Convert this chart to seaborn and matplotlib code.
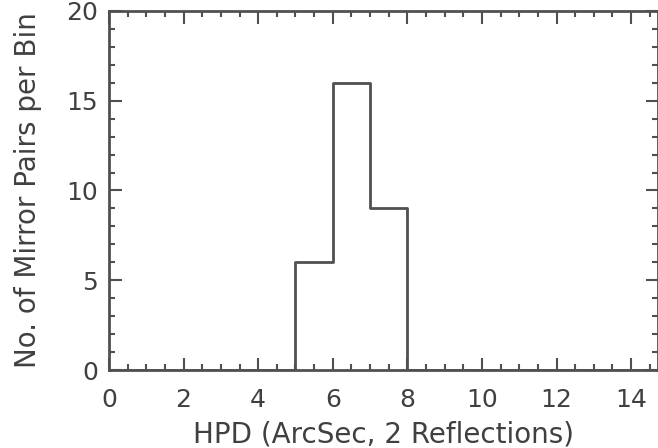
import numpy as np
import pandas as pd
import matplotlib
matplotlib.use("Agg")
import matplotlib.pyplot as plt
import seaborn as sns
from matplotlib.ticker import MultipleLocator

bin_edges = [0, 1, 2, 3, 4, 5, 6, 7, 8, 9, 10, 11, 12, 13, 14, 15]
counts = [0, 0, 0, 0, 0, 6, 16, 9, 0, 0, 0, 0, 0, 0, 0]
x_ticks = [0, 2, 4, 6, 8, 10, 12, 14]
y_ticks = [0, 5, 10, 15, 20]

sns.set_style("ticks")
plt.rcParams['font.family'] = ['DejaVu Sans']

centers = [(a + b) / 2 for a, b in zip(bin_edges[:-1], bin_edges[1:])]
df = pd.DataFrame({"hpd": centers, "n": counts})

col = "#505050"
fig = plt.figure(figsize=(6.58, 4.48), dpi=100)
ax = fig.add_axes([109/658, 78/448, (658-109)/658, (370-11)/448])
sns.histplot(data=df, x="hpd", weights="n", bins=bin_edges, element="step",
             fill=False, color=col, linewidth=2.0, ax=ax)
ax.set_xlim(0, 14.72)
ax.set_ylim(0, 20)
ax.set_xticks(x_ticks)
ax.set_yticks(y_ticks)
ax.xaxis.set_minor_locator(MultipleLocator(0.5))
ax.yaxis.set_minor_locator(MultipleLocator(1))
ax.tick_params(which="both", direction="in", top=True, right=True, color=col,
               labelcolor="#404040", labelsize=18, width=1.5)
ax.tick_params(which="major", length=9)
ax.tick_params(axis="x", which="major", pad=13)
ax.tick_params(axis="y", which="major", pad=8)
ax.tick_params(which="minor", length=4)
for s in ax.spines.values():
    s.set_color(col)
    s.set_linewidth(2)
ax.set_xlabel("HPD (ArcSec, 2 Reflections)", fontsize=20, color="#404040", labelpad=6)
ax.set_ylabel("No. of Mirror Pairs per Bin", fontsize=20, color="#404040", labelpad=17)
fig.savefig("out.png", dpi=100)
